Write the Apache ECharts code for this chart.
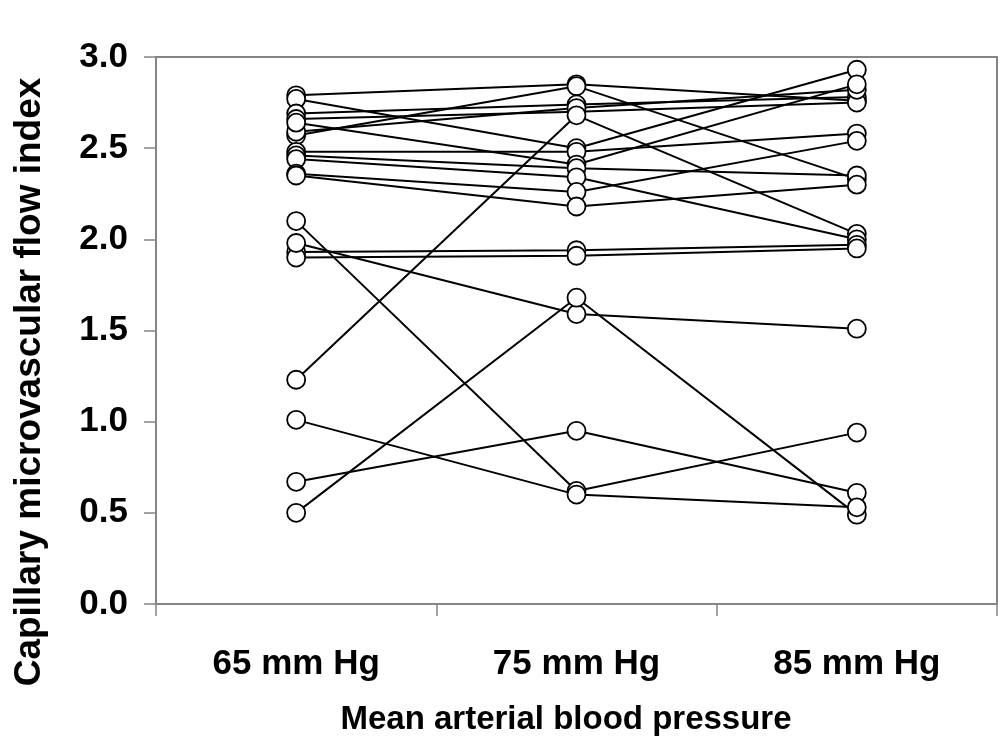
<!DOCTYPE html>
<html>
<head>
<meta charset="utf-8">
<script src="https://cdn.jsdelivr.net/npm/echarts@6/dist/echarts.min.js"></script>
<style>
  html, body { margin: 0; padding: 0; background: #fff; }
  #chart { width: 1004px; height: 747px; }
</style>
</head>
<body>
<div id="chart"></div>
<script>
// pressure levels on the x axis
const categories = ['65 mm Hg', '75 mm Hg', '85 mm Hg']

// flow index per subject at each pressure level (same order in every array)
const at65 = [2.79, 2.57, 2.77, 2.48, 2.69, 2.66, 2.59, 1.23, 2.64, 2.46,
              2.44, 2.36, 2.35, 1.93, 1.90, 1.98, 0.50, 0.67, 2.10, 1.01]
const at75 = [2.85, 2.84, 2.50, 2.48, 2.74, 2.70, 2.72, 2.68, 2.41, 2.39,
              2.34, 2.26, 2.18, 1.94, 1.91, 1.59, 1.68, 0.95, 0.62, 0.60]
const at85 = [2.76, 2.33, 2.93, 2.58, 2.78, 2.75, 2.82, 2.03, 2.85, 2.35,
              2.00, 2.54, 2.30, 1.97, 1.95, 1.51, 0.49, 0.61, 0.94, 0.53]

const yTicks = { min: 0, max: 3, interval: 0.5 }

const FONT = '"Liberation Sans", Arial, sans-serif'
const GREY = '#858585'

const chart = echarts.init(document.getElementById('chart'), null, { renderer: 'canvas' })

let series = []
for (let i = 0; i < at65.length; i++) {
  series.push({
    type: 'line',
    data: [at65[i], at75[i], at85[i]],
    symbol: 'circle',
    symbolSize: 18,
    showAllSymbol: true,
    lineStyle: { color: '#000', width: 2 },
    itemStyle: { color: '#fff', borderColor: '#000', borderWidth: 1.8 },
    emphasis: { disabled: true },
    animation: false
  })
}

chart.setOption({
  backgroundColor: '#fff',
  animation: false,
  grid: {
    left: 156, right: 7, top: 57, bottom: 143,
    show: true, borderColor: GREY, borderWidth: 2, backgroundColor: '#fff'
  },
  xAxis: {
    type: 'category',
    data: categories,
    boundaryGap: true,
    axisLine: { lineStyle: { color: GREY, width: 2 } },
    axisTick: { show: true, length: 12, lineStyle: { color: GREY, width: 1.5 } },
    axisLabel: {
      margin: 43, color: '#000', fontFamily: FONT,
      fontWeight: 'bold', fontSize: 35
    },
    splitLine: { show: false }
  },
  yAxis: {
    type: 'value',
    min: yTicks.min, max: yTicks.max, interval: yTicks.interval,
    axisLine: { show: true, lineStyle: { color: GREY, width: 2 } },
    axisTick: { show: true, length: 12, lineStyle: { color: GREY, width: 1.5 } },
    axisLabel: {
      margin: 28, color: '#000', fontFamily: FONT,
      fontWeight: 'bold', fontSize: 35,
      formatter: v => v.toFixed(1)
    },
    splitLine: { show: false }
  },
  graphic: [
    {
      type: 'text',
      x: 566, y: 720,
      style: {
        text: 'Mean arterial blood pressure',
        font: 'bold 33px ' + FONT,
        fill: '#000', align: 'center', verticalAlign: 'middle'
      }
    },
    {
      type: 'text',
      x: 30, y: 382,
      rotation: Math.PI / 2,
      style: {
        text: 'Capillary microvascular flow index',
        font: 'bold 37px ' + FONT,
        fill: '#000', align: 'center', verticalAlign: 'middle'
      }
    }
  ],
  series: series
})
</script>
</body>
</html>
